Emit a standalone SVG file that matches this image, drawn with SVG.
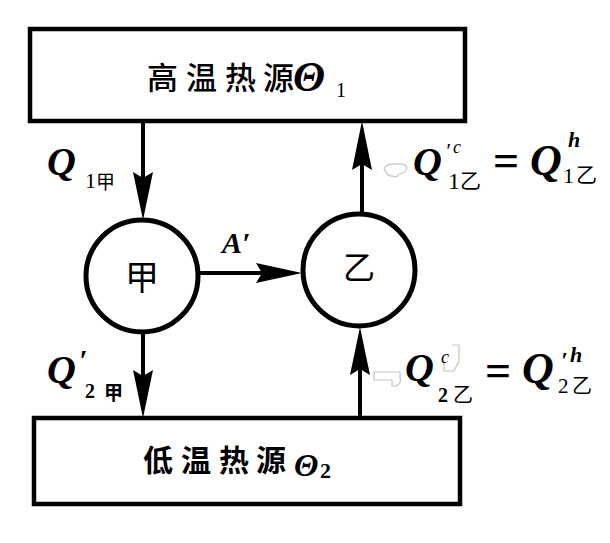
<svg xmlns="http://www.w3.org/2000/svg" width="610" height="543" viewBox="0 0 610 543">
<style>
.box{fill:#fff;stroke:#000;stroke-width:4.5}
.node{fill:#fff;stroke:#000;stroke-width:5}
.ln{stroke:#000;stroke-width:4;fill:none}
.ah{fill:#000;stroke:none}
.cjk{font-family:"Noto Sans CJK SC","Noto Sans CJK TC",sans-serif;fill:#000}
.ser{font-family:"Liberation Serif","Noto Sans CJK SC",serif;fill:#000}
.bi{font-weight:bold;font-style:italic}
.art{fill:none;stroke:#c4c4c4;stroke-width:1.2}
</style>
<rect width="610" height="543" fill="#fff"/>
<g id="connectors">
  <line class="ln" x1="143" y1="121" x2="143" y2="200"/>
  <path class="ah" d="M143,220 L133,172 L143,178 L153,172 Z"/>
  <line class="ln" x1="143" y1="334" x2="143" y2="395"/>
  <path class="ah" d="M143,418 L133,370 L143,376 L153,370 Z"/>
  <line class="ln" x1="362" y1="214" x2="362" y2="150"/>
  <path class="ah" d="M362,121 L352,170 L362,164 L372,170 Z"/>
  <line class="ln" x1="360" y1="418" x2="360" y2="350"/>
  <path class="ah" d="M360,327 L350,375 L360,369 L370,375 Z"/>
  <line class="ln" x1="199" y1="273" x2="280" y2="273"/>
  <path class="ah" d="M302,273 L256,263 L262,273 L256,283 Z"/>
</g>
<g id="hot">
  <rect class="box" x="30" y="29" width="435" height="92"/>
  <text class="cjk" x="147 186 225 263" y="89" font-size="31" font-weight="500">高温热源</text>
  <text class="ser bi" x="293" y="91" font-size="42">Θ</text>
  <text class="ser" x="336" y="97" font-size="20">1</text>
</g>
<g id="cold">
  <rect class="box" x="34" y="418" width="426" height="86"/>
  <text class="cjk" x="143 181 219 256" y="471" font-size="30" font-weight="bold">低温热源</text>
  <text class="ser bi" x="294" y="476" font-size="32">Θ</text>
  <text class="ser" x="320" y="478" font-size="22" font-weight="bold">2</text>
</g>
<g id="jia">
  <circle class="node" cx="142" cy="276" r="56"/>
  <text class="cjk" x="142" y="290" font-size="34" text-anchor="middle">甲</text>
</g>
<g id="yi">
  <circle class="node" cx="359" cy="270" r="56"/>
  <text class="cjk" x="359" y="279" font-size="32" text-anchor="middle">乙</text>
</g>
<g id="labels">
  <text class="ser bi" x="47" y="175" font-size="40">Q</text>
  <text class="ser" x="85" y="188" font-size="22">1</text>
  <text class="cjk" x="96" y="189" font-size="19">甲</text>

  <text class="ser bi" x="222" y="253" font-size="30">A′</text>

  <text class="ser bi" x="47" y="383" font-size="40">Q</text>
  <text class="ser bi" x="79" y="370" font-size="30">′</text>
  <text class="ser" x="85" y="398" font-size="20" font-weight="bold">2</text>
  <text class="cjk" x="104" y="400" font-size="19" font-weight="bold">甲</text>

  <path class="art" d="M384,168 q4,-5 12,-4 q10,-1 11,4 q-1,5 -8,6 q-2,4 -6,2 q-6,1 -9,-8z"/>
  <text class="ser bi" x="413" y="175" font-size="40">Q</text>
  <text class="ser" x="445" y="158" font-size="22" font-style="italic">′</text>
  <text class="ser" x="453" y="153" font-size="18" font-style="italic">c</text>
  <text class="ser" x="448" y="189" font-size="24">1</text>
  <text class="cjk" x="460" y="188" font-size="21">乙</text>
  <text class="ser" x="493" y="176" font-size="46" font-weight="bold">=</text>
  <text class="ser bi" x="530" y="175" font-size="44">Q</text>
  <text class="ser bi" x="568" y="147" font-size="22">h</text>
  <text class="ser" x="563" y="183" font-size="22">1</text>
  <text class="cjk" x="576" y="182" font-size="21">乙</text>

  <path class="art" d="M374,372 h26 v5 q2,6 -4,9 h-4 v-6 h-18 z"/>
  <text class="ser bi" x="405" y="381" font-size="40">Q</text>
  <path class="art" d="M452,345 h7 v16 l-5,10 h-10 v-8"/>
  <text class="ser" x="441" y="363" font-size="18" font-style="italic">c</text>
  <text class="ser" x="438" y="402" font-size="20" font-weight="bold">2</text>
  <text class="cjk" x="453" y="402" font-size="20">乙</text>
  <text class="ser" x="485" y="386" font-size="46" font-weight="bold">=</text>
  <text class="ser bi" x="522" y="383" font-size="44">Q</text>
  <text class="ser bi" x="561" y="368" font-size="24">′</text>
  <text class="ser bi" x="570" y="362" font-size="22">h</text>
  <text class="ser" x="558" y="393" font-size="21">2</text>
  <text class="cjk" x="572" y="393" font-size="20">乙</text>
</g>
</svg>
